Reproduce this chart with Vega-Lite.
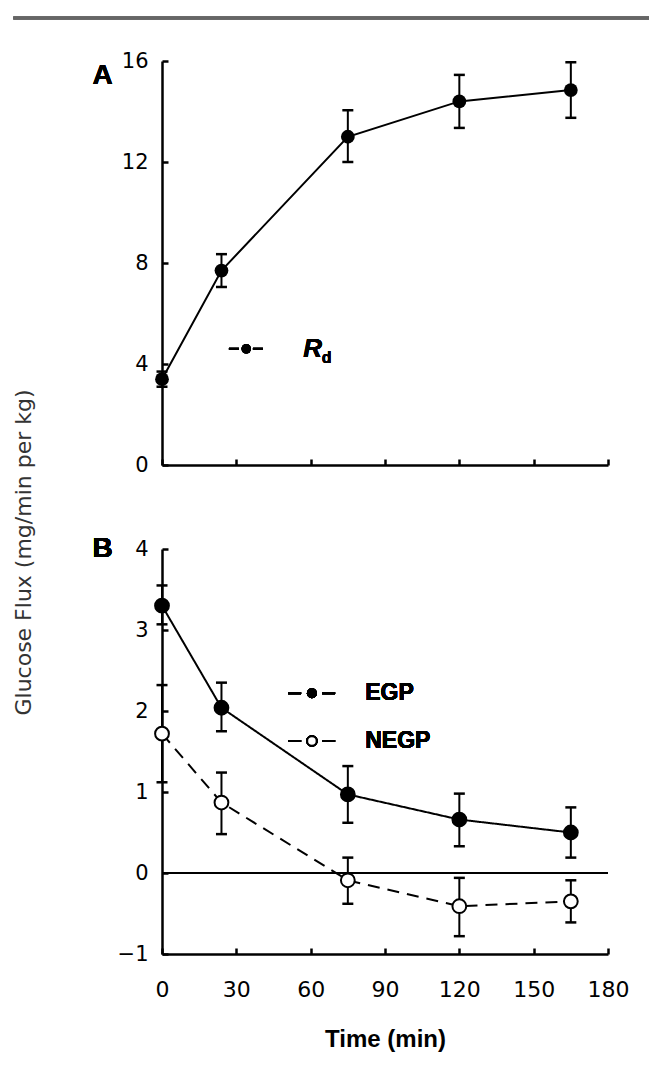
{
  "$schema": "https://vega.github.io/schema/vega-lite/v6.json",
  "background": "white",
  "padding": {"left": 11, "top": 16, "right": 0, "bottom": 5},
  "spacing": 84,
  "bounds": "flush",
  "config": {
    "view": {"stroke": null},
    "tick": {"opacity": 1},
    "axis": {
      "grid": false,
      "domainColor": "black",
      "domainWidth": 2.5,
      "tickColor": "black",
      "tickWidth": 2.5,
      "tickSize": -6,
      "labelFlush": false,
      "labelFont": "DejaVu Sans",
      "labelFontSize": 21,
      "labelColor": "black",
      "titleColor": "black"
    }
  },
  "datasets": {
    "rd": [
      {"series": "Rd", "time": 0, "mean": 3.4, "lo": 3.1, "hi": 3.7},
      {"series": "Rd", "time": 24, "mean": 7.7, "lo": 7.05, "hi": 8.35},
      {"series": "Rd", "time": 75, "mean": 13.0, "lo": 12.0, "hi": 14.05},
      {"series": "Rd", "time": 120, "mean": 14.4, "lo": 13.35, "hi": 15.45},
      {"series": "Rd", "time": 165, "mean": 14.85, "lo": 13.75, "hi": 15.95}
    ],
    "glu": [
      {"series": "EGP", "time": 0, "mean": 3.3, "lo": 3.07, "hi": 3.55},
      {"series": "EGP", "time": 24, "mean": 2.04, "lo": 1.75, "hi": 2.35},
      {"series": "EGP", "time": 75, "mean": 0.97, "lo": 0.62, "hi": 1.32},
      {"series": "EGP", "time": 120, "mean": 0.66, "lo": 0.33, "hi": 0.98},
      {"series": "EGP", "time": 165, "mean": 0.5, "lo": 0.19, "hi": 0.81},
      {"series": "NEGP", "time": 0, "mean": 1.72, "lo": 1.12, "hi": 2.32},
      {"series": "NEGP", "time": 24, "mean": 0.87, "lo": 0.48, "hi": 1.24},
      {"series": "NEGP", "time": 75, "mean": -0.09, "lo": -0.38, "hi": 0.19},
      {"series": "NEGP", "time": 120, "mean": -0.41, "lo": -0.78, "hi": -0.06},
      {"series": "NEGP", "time": 165, "mean": -0.35, "lo": -0.61, "hi": -0.09}
    ]
  },
  "vconcat": [
    {
      "width": 446,
      "height": 404,
      "data": {"name": "rd"},
      "encoding": {
        "x": {"field": "time", "type": "quantitative", "scale": {"domain": [0, 180], "nice": false},
          "axis": {"values": [0, 30, 60, 90, 120, 150, 180], "labels": false, "title": null}},
        "y": {"type": "quantitative", "scale": {"domain": [0, 16], "nice": false},
          "axis": {"values": [0, 4, 8, 12, 16], "title": null, "labelPadding": 20}}
      },
      "layer": [
        {"mark": {"type": "rule", "stroke": "#666666", "strokeWidth": 3},
          "encoding": {"x": {"datum": -60}, "x2": {"datum": 197}, "y": {"datum": 17.7}}},
        {"mark": {"type": "rule", "stroke": "black", "strokeWidth": 2},
          "encoding": {"y": {"field": "lo"}, "y2": {"field": "hi"}}},
        {"mark": {"type": "tick", "orient": "horizontal", "size": 11, "thickness": 2.5, "color": "black", "opacity": 1},
          "encoding": {"y": {"field": "lo"}}},
        {"mark": {"type": "tick", "orient": "horizontal", "size": 11, "thickness": 2.5, "color": "black", "opacity": 1},
          "encoding": {"y": {"field": "hi"}}},
        {"mark": {"type": "line", "stroke": "black", "strokeWidth": 2},
          "encoding": {"y": {"field": "mean"}}},
        {"mark": {"type": "point", "shape": "circle", "filled": true, "fill": "black", "size": 190, "opacity": 1},
          "encoding": {"y": {"field": "mean"}}},
        {"mark": {"type": "rule", "stroke": "black", "strokeWidth": 2, "strokeDash": [10, 14]},
          "encoding": {"x": {"datum": 27}, "x2": {"datum": 41}, "y": {"datum": 4.6}}},
        {"mark": {"type": "point", "shape": "circle", "filled": true, "fill": "black", "size": 90, "opacity": 1},
          "encoding": {"x": {"datum": 34}, "y": {"datum": 4.6}}},
        {"mark": {"type": "text", "text": "R", "font": "Liberation Sans", "fontSize": 26, "fontWeight": "bold", "fontStyle": "italic", "align": "left", "baseline": "middle", "color": "black"},
          "encoding": {"x": {"datum": 57}, "y": {"datum": 4.6}}},
        {"mark": {"type": "text", "text": "d", "font": "Liberation Sans", "fontSize": 16, "fontWeight": "bold", "align": "left", "baseline": "middle", "color": "black"},
          "encoding": {"x": {"datum": 64.5}, "y": {"datum": 4.25}}},
        {"mark": {"type": "text", "text": "A", "font": "Liberation Sans", "fontSize": 28, "fontWeight": "bold", "align": "center", "baseline": "middle", "color": "black"},
          "encoding": {"x": {"datum": -24}, "y": {"datum": 15.4}}}
      ]
    },
    {
      "width": 446,
      "height": 405,
      "data": {"name": "glu"},
      "encoding": {
        "x": {"field": "time", "type": "quantitative", "scale": {"domain": [0, 180], "nice": false},
          "axis": {"values": [0, 30, 60, 90, 120, 150, 180], "labelFontSize": 22, "labelPadding": 31,
            "title": "Time (min)", "titleFont": "Liberation Sans", "titleFontSize": 24, "titleFontWeight": "bold", "titlePadding": 27}},
        "y": {"type": "quantitative", "scale": {"domain": [-1, 4], "nice": false},
          "axis": {"values": [-1, 0, 1, 2, 3, 4], "labelPadding": 20,
            "title": "Glucose Flux (mg/min per kg)", "titleFont": "DejaVu Sans", "titleFontSize": 22, "titleFontWeight": "normal",
            "titleColor": "#333333", "titleX": -139, "titleY": 3, "titleAlign": "center", "titleBaseline": "middle", "titleAngle": -90}}
      },
      "layer": [
        {"mark": {"type": "rule", "stroke": "black", "strokeWidth": 2},
          "encoding": {"x": {"datum": 0}, "x2": {"datum": 180}, "y": {"datum": 0}}},
        {"mark": {"type": "rule", "stroke": "black", "strokeWidth": 2},
          "encoding": {"y": {"field": "lo"}, "y2": {"field": "hi"}}},
        {"mark": {"type": "tick", "orient": "horizontal", "size": 11, "thickness": 2.5, "color": "black", "opacity": 1},
          "encoding": {"y": {"field": "lo"}}},
        {"mark": {"type": "tick", "orient": "horizontal", "size": 11, "thickness": 2.5, "color": "black", "opacity": 1},
          "encoding": {"y": {"field": "hi"}}},
        {"mark": {"type": "line", "stroke": "black", "strokeWidth": 2},
          "encoding": {"y": {"field": "mean"},
            "strokeDash": {"field": "series", "type": "nominal", "scale": {"domain": ["EGP", "NEGP"], "range": [[1, 0], [12, 8]]}, "legend": null}}},
        {"mark": {"type": "point", "shape": "circle", "filled": true, "size": 190, "stroke": "black", "strokeWidth": 2, "opacity": 1},
          "encoding": {"y": {"field": "mean"},
            "fill": {"field": "series", "type": "nominal", "scale": {"domain": ["EGP", "NEGP"], "range": ["black", "white"]}, "legend": null}}},
        {"mark": {"type": "rule", "stroke": "black", "strokeWidth": 2, "strokeDash": [13, 21]},
          "encoding": {"x": {"datum": 50.9}, "x2": {"datum": 70.2}, "y": {"datum": 2.22}}},
        {"mark": {"type": "point", "shape": "circle", "filled": true, "fill": "black", "size": 100, "opacity": 1},
          "encoding": {"x": {"datum": 60.5}, "y": {"datum": 2.22}}},
        {"mark": {"type": "text", "text": "EGP", "font": "Liberation Sans", "fontSize": 23, "fontWeight": "bold", "align": "left", "baseline": "middle", "color": "black"},
          "encoding": {"x": {"datum": 82}, "y": {"datum": 2.22}}},
        {"mark": {"type": "rule", "stroke": "black", "strokeWidth": 2, "strokeDash": [13, 21]},
          "encoding": {"x": {"datum": 50.9}, "x2": {"datum": 70.2}, "y": {"datum": 1.63}}},
        {"mark": {"type": "point", "shape": "circle", "filled": true, "fill": "white", "stroke": "black", "strokeWidth": 2, "size": 90, "opacity": 1},
          "encoding": {"x": {"datum": 60.5}, "y": {"datum": 1.63}}},
        {"mark": {"type": "text", "text": "NEGP", "font": "Liberation Sans", "fontSize": 23, "fontWeight": "bold", "align": "left", "baseline": "middle", "color": "black"},
          "encoding": {"x": {"datum": 82}, "y": {"datum": 1.63}}},
        {"mark": {"type": "text", "text": "B", "font": "Liberation Sans", "fontSize": 28, "fontWeight": "bold", "align": "center", "baseline": "middle", "color": "black"},
          "encoding": {"x": {"datum": -24}, "y": {"datum": 4.0}}}
      ]
    }
  ]
}
